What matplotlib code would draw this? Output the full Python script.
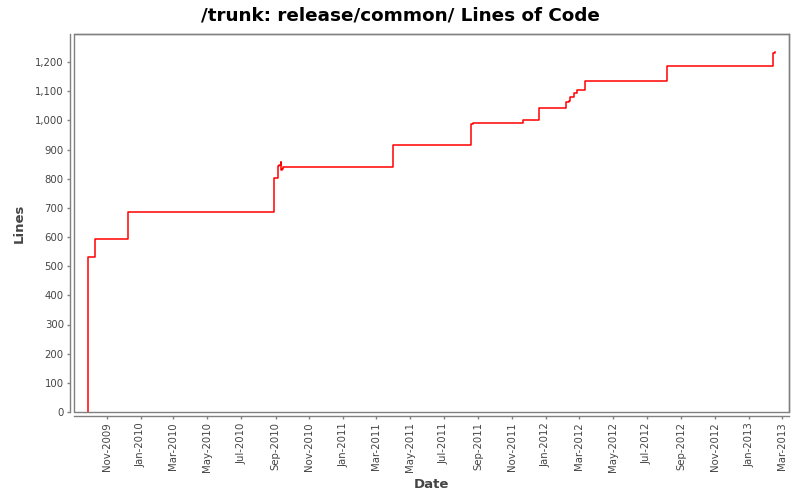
import matplotlib
matplotlib.use("Agg")
import matplotlib.pyplot as plt
import matplotlib.dates as mdates
from matplotlib.ticker import FuncFormatter
from matplotlib.patches import Rectangle
import pandas as pd

dates = ["2009-09-29", "2009-09-29", "2009-10-10", "2009-12-10",
         "2010-08-30", "2010-09-06", "2010-09-08", "2010-09-10", "2010-09-11",
         "2010-09-13", "2010-09-15", "2011-03-31", "2011-04-01",
         "2011-08-19", "2011-08-23", "2011-11-21", "2011-12-20",
         "2012-02-07", "2012-02-12", "2012-02-14", "2012-02-20", "2012-02-27",
         "2012-03-11", "2012-08-07", "2013-02-14", "2013-02-16"]
lines = [0, 530, 592, 685,
         801, 843, 847, 856, 830,
         833, 839, 892, 914,
         986, 990, 1000, 1042,
         1062, 1065, 1081, 1093, 1103,
         1134, 1188, 1230, 1233]

title = "/trunk: release/common/ Lines of Code"
x_label = "Date"
y_label = "Lines"

x = pd.to_datetime(dates)

fig = plt.figure(figsize=(8, 5), dpi=100)
ax = fig.add_axes([74/800, 1-412/500, 715/800, 378/500])

ax.plot(x, lines, drawstyle="steps-post", color="#ff0000", lw=1.1)

ax.set_xlim(pd.Timestamp("2009-09-03"), pd.Timestamp("2013-03-14"))
ax.set_ylim(0, 1296)

gray = "#808080"
for s in ["top", "right"]:
    ax.spines[s].set_color(gray)
    ax.spines[s].set_linewidth(1)
for s in ["left", "bottom"]:
    ax.spines[s].set_position(("outward", 2.6))
    ax.spines[s].set_color(gray)
    ax.spines[s].set_linewidth(1)
ax.add_patch(Rectangle((0, 0), 1, 1, transform=ax.transAxes, fill=False,
                       edgecolor=gray, lw=1, clip_on=False, zorder=5))

ax.set_yticks(range(0, 1201, 100))
ax.yaxis.set_major_formatter(FuncFormatter(lambda v, p: f"{int(v):,}"))
ax.xaxis.set_major_locator(mdates.MonthLocator(bymonth=[1, 3, 5, 7, 9, 11]))
ax.xaxis.set_major_formatter(mdates.DateFormatter("%b-%Y"))
ax.tick_params(axis="both", colors=gray, labelcolor="#444444", labelsize=7.3,
               length=2.2, width=1, pad=2.5)
ax.tick_params(axis="x", labelrotation=90)

ax.set_xlabel(x_label, fontsize=9.5, fontweight="bold", color="#444444", labelpad=4)
ax.set_ylabel(y_label, fontsize=9.5, fontweight="bold", color="#444444", labelpad=7)
fig.text(0.5, 1-15/500, title, ha="center", va="center", fontsize=13.2,
         fontweight="bold", color="#000000")

fig.savefig("out.png", dpi=100)
